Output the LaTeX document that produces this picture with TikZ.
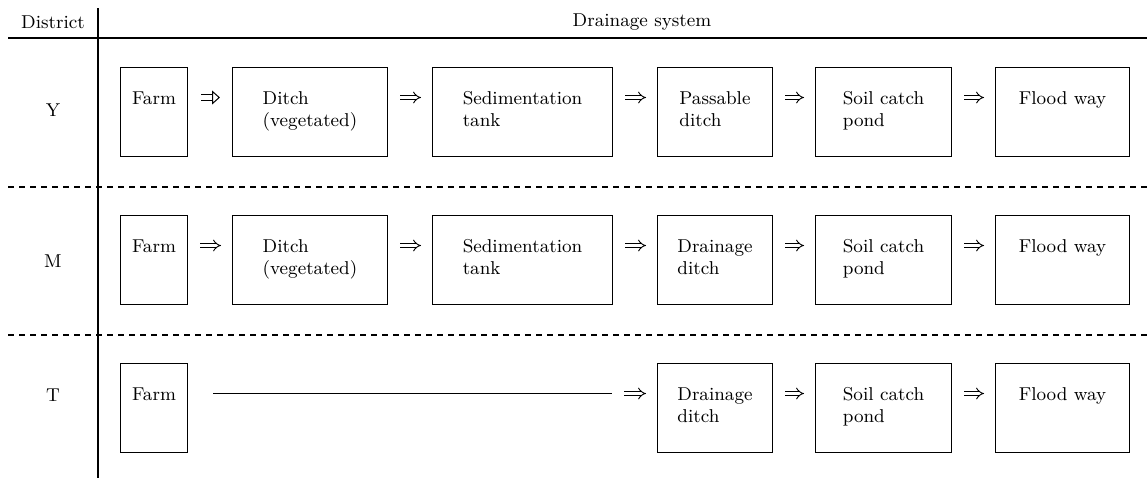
\documentclass[tikz,border=0pt]{standalone}
\usetikzlibrary{arrows.meta}

% two lines of a box, baseline on the first one
\newcommand{\twolines}[2]{\begin{tabular}[t]{@{}l@{}}#1\\#2\end{tabular}}

\begin{document}
\begin{tikzpicture}[x=0.5pt,y=-0.5pt,font=\fontsize{9.3}{11}\selectfont,
        stage/.style={draw,line width=0.5pt,inner sep=0pt,anchor=north west,
            text height=18.5pt,text depth=26pt},
        imp/.style={double,double distance=1.6pt,line width=0.45pt,-{Implies},
            shorten <=6pt,shorten >=5.5pt},
        hollow/.style={double,double distance=2.2pt,line width=0.5pt,
            -{Triangle[open,length=4pt,width=7pt]},shorten <=6.5pt,shorten >=6pt},
        rule/.style={line width=0.9pt},
        sep/.style={line width=0.7pt,dash pattern=on 3pt off 2.5pt}]
                \useasboundingbox (0,0) rectangle (1147,478);
                % table frame
                \node (district) at (53,22) {District};
                \node (system) at (642,22) {Drainage system};
                \draw[rule] (8,38) -- (1147,38);
                \draw[rule] (98,8) -- (98,478);
                \draw[sep] (8,187) -- (1147,187);
                \draw[sep] (8,335) -- (1147,335);
                \node (ylab) at (53,110) {Y};
                \node (mlab) at (53,261) {M};
                \node (tlab) at (53,395) {T};
                % district Y
                \node[stage,minimum width=33.5pt] (yfarm) at (120,67) {Farm};
                \node[stage,minimum width=77.5pt] (yditch) at (232,67) {\twolines{Ditch}{(vegetated)}};
                \node[stage,minimum width=90pt] (ysed) at (432,67) {\twolines{Sedimentation}{tank}};
                \node[stage,minimum width=57.5pt] (ypass) at (657,67) {\twolines{Passable}{ditch}};
                \node[stage,minimum width=68pt] (ysoil) at (815,67) {\twolines{Soil catch}{pond}};
                \node[stage,minimum width=67pt] (yflood) at (995,67) {Flood way};
                \draw[hollow] ([yshift=3.5pt]yfarm.base east) -- ([yshift=3.5pt]yditch.base west);
                \draw[imp] ([yshift=3.5pt]yditch.base east) -- ([yshift=3.5pt]ysed.base west);
                \draw[imp] ([yshift=3.5pt]ysed.base east) -- ([yshift=3.5pt]ypass.base west);
                \draw[imp] ([yshift=3.5pt]ypass.base east) -- ([yshift=3.5pt]ysoil.base west);
                \draw[imp] ([yshift=3.5pt]ysoil.base east) -- ([yshift=3.5pt]yflood.base west);
                % district M
                \node[stage,minimum width=33.5pt] (mfarm) at (120,215) {Farm};
                \node[stage,minimum width=77.5pt] (mditch) at (232,215) {\twolines{Ditch}{(vegetated)}};
                \node[stage,minimum width=90pt] (msed) at (432,215) {\twolines{Sedimentation}{tank}};
                \node[stage,minimum width=57.5pt] (mdrain) at (657,215) {\twolines{Drainage}{ditch}};
                \node[stage,minimum width=68pt] (msoil) at (815,215) {\twolines{Soil catch}{pond}};
                \node[stage,minimum width=67pt] (mflood) at (995,215) {Flood way};
                \draw[imp] ([yshift=3.5pt]mfarm.base east) -- ([yshift=3.5pt]mditch.base west);
                \draw[imp] ([yshift=3.5pt]mditch.base east) -- ([yshift=3.5pt]msed.base west);
                \draw[imp] ([yshift=3.5pt]msed.base east) -- ([yshift=3.5pt]mdrain.base west);
                \draw[imp] ([yshift=3.5pt]mdrain.base east) -- ([yshift=3.5pt]msoil.base west);
                \draw[imp] ([yshift=3.5pt]msoil.base east) -- ([yshift=3.5pt]mflood.base west);
                % district T
                \node[stage,minimum width=33.5pt] (tfarm) at (120,363) {Farm};
                \node[stage,minimum width=57.5pt] (tdrain) at (657,363) {\twolines{Drainage}{ditch}};
                \node[stage,minimum width=68pt] (tsoil) at (815,363) {\twolines{Soil catch}{pond}};
                \node[stage,minimum width=67pt] (tflood) at (995,363) {Flood way};
                \coordinate (tgap) at ([xshift=-22.5pt,yshift=3.5pt]tdrain.base west);
                \draw[line width=0.5pt] ([xshift=12.5pt,yshift=3.5pt]tfarm.base east) -- (tgap);
                \draw[imp] (tgap) -- ([yshift=3.5pt]tdrain.base west);
                \draw[imp] ([yshift=3.5pt]tdrain.base east) -- ([yshift=3.5pt]tsoil.base west);
                \draw[imp] ([yshift=3.5pt]tsoil.base east) -- ([yshift=3.5pt]tflood.base west);
            \end{tikzpicture}
\end{document}
